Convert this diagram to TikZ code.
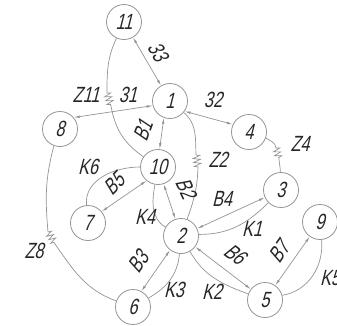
\documentclass[tikz,border=0pt]{standalone}
\usepackage{fontspec}
\newfontfamily\drawfont{Liberation Sans}[FakeStretch=0.74,FakeSlant=0.25]
\usetikzlibrary{arrows.meta,decorations.pathmorphing}
\definecolor{linegray}{gray}{0.58}
\definecolor{ink}{gray}{0.15}
\tikzset{
  vert/.style={circle,draw=linegray,line width=0.8pt,minimum size=35pt,inner sep=0pt,
    text=ink,font=\drawfont\fontsize{22}{22}\selectfont},
  lbl/.style={text=ink,inner sep=0pt,font=\drawfont\fontsize{22}{22}\selectfont},
  link/.style={draw=linegray,line width=0.7pt},
  dbl/.style={link,{Latex[length=6pt,width=2.6pt]}-{Latex[length=6pt,width=2.6pt]}},
  spring/.style={link,decorate,decoration={zigzag,segment length=4pt,amplitude=3.5pt}}
}
\begin{document}
\begin{tikzpicture}[x=1pt,y=-1pt]
\useasboundingbox (0,0) rectangle (337,325);

% vertices
\node[vert] (n11) at (124,22)  {11};
\node[vert] (n1)  at (170,101) {1};
\node[vert] (n8)  at (60,129)  {8};
\node[vert] (n4)  at (249,132) {4};
\node[vert] (n10) at (158,167) {10};
\node[vert] (n3)  at (281,190) {3};
\node[vert] (n7)  at (88,223)  {7};
\node[vert] (n2)  at (181,236) {2};
\node[vert] (n9)  at (320,222) {9};
\node[vert] (n5)  at (265,300) {5};
\node[vert] (n6)  at (133,307) {6};

% spring end points
\coordinate (z11a) at (107,93);  \coordinate (z11b) at (111,106);
\coordinate (z2a)  at (196,155); \coordinate (z2b)  at (198,167);
\coordinate (z4a)  at (276,148); \coordinate (z4b)  at (279,159);
\coordinate (z8a)  at (48,232);  \coordinate (z8b)  at (55,244);

% straight two-way links
\draw[dbl] (n11) -- (n1);
\draw[dbl] (n8.40) -- (n1.195);
\draw[dbl] (n1.-35) -- (n4.155);
\draw[dbl] (n1.-110) -- (n10.85);
\draw[dbl] (n10) -- (n2);
\draw[dbl] (n10.-130) -- (n7.40);
\draw[dbl] (n2) -- (n3);
\draw[dbl] (n2) -- (n5);
\draw[dbl] (n5) -- (n9);
\draw[dbl] (n2.-128) -- (n6.62);

% curved links
\draw[link] (n10.180) to[out=180,in=95] (n7.95);
\draw[link] (n10.-100) to[out=-100,in=150] (n2.150);
\draw[link] (n2.5) to[out=0,in=-135] (n3.-135);
\draw[link] (n2.-60) to[out=-60,in=160] (n5.160);
\draw[link] (n5.15) to[out=10,in=-85] (n9.-85);
\draw[link] (n2.-95) to[out=-95,in=30] (n6.30);

% links with springs
\draw[link] (n11.-115) to[out=-115,in=90] (z11a);
\draw[spring] (z11a) -- (z11b);
\draw[link] (z11b) to[out=-80,in=145] (n10.145);

\draw[link] (n1.-40) to[out=-40,in=92] (z2a);
\draw[spring] (z2a) -- (z2b);
\draw[link] (z2b) to[out=-92,in=70] (n2.70);

\draw[link] (n4.-20) to[out=-30,in=95] (z4a);
\draw[spring] (z4a) -- (z4b);
\draw[link] (z4b) to[out=-85,in=92] (n3.92);

\draw[link] (n8.-110) to[out=-105,in=95] (z8a);
\draw[spring] (z8a) -- (z8b);
\draw[link] (z8b) to[out=-55,in=160] (n6.160);

% labels
\node[lbl,rotate=-60] (l33) at (158,52) {33};
\node[lbl] (lz11) at (86,95) {Z11};
\node[lbl] (l31) at (128,95) {31};
\node[lbl] (l32) at (213,100) {32};
\node[lbl] (lz4) at (300,144) {Z4};
\node[lbl] (lz2) at (218,160) {Z2};
\node[lbl,rotate=70] (lb1) at (143,131) {B1};
\node[lbl,rotate=-65] (lb2) at (186,188) {B2};
\node[lbl] (lk6) at (88,167) {K6};
\node[lbl,rotate=45] (lb5) at (114,184) {B5};
\node[lbl] (lk4) at (145,217) {K4};
\node[lbl] (lb4) at (222,199) {B4};
\node[lbl] (lk1) at (252,229) {K1};
\node[lbl,rotate=-37] (lb6) at (235,254) {B6};
\node[lbl,rotate=55] (lb7) at (279,252) {B7};
\node[lbl] (lk5) at (330,278) {K5};
\node[lbl] (lk2) at (212,292) {K2};
\node[lbl] (lk3) at (174,290) {K3};
\node[lbl,rotate=56] (lb3) at (138,262) {B3};
\node[lbl] (lz8) at (34,251) {Z8};
\end{tikzpicture}
\end{document}
